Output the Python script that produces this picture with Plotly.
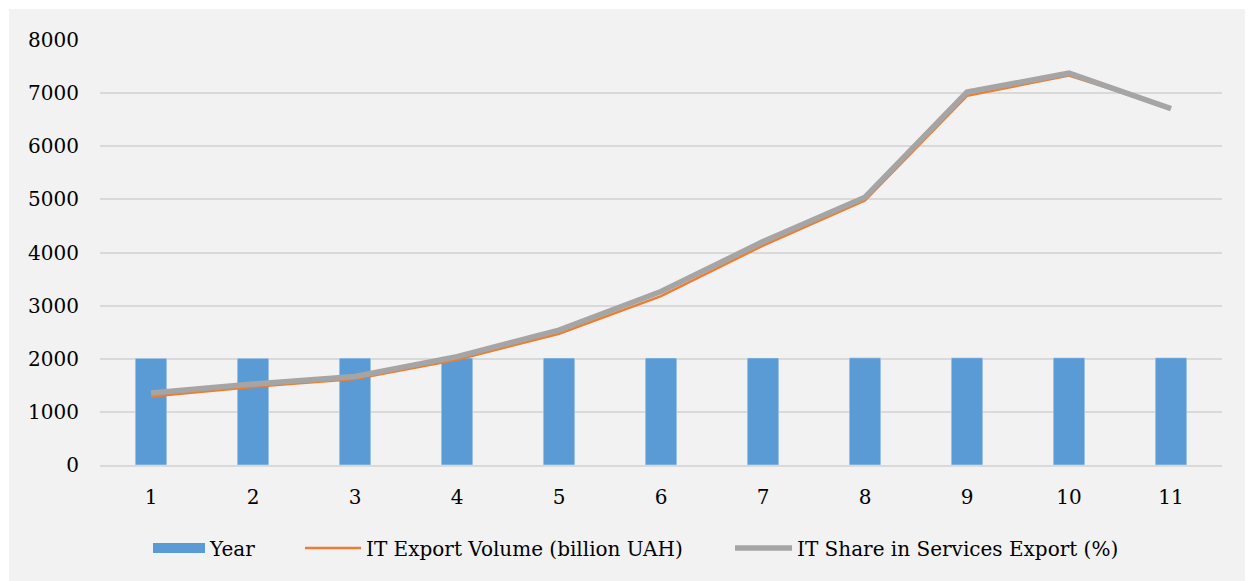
import plotly.graph_objects as go

x_labels = ["1", "2", "3", "4", "5", "6", "7", "8", "9", "10", "11"]
years = [2010, 2011, 2012, 2013, 2014, 2015, 2016, 2017, 2018, 2019, 2020]
it_export = [1290, 1470, 1620, 1980, 2470, 3180, 4130, 4980, 6950, 7330, 6720]
it_share_stacked = [1355, 1525, 1665, 2040, 2540, 3265, 4205, 5040, 7020, 7375, 6710]

BLUE, ORANGE, GRAY = "#5B9BD5", "#ED7D31", "#A5A5A5"
FONT = "DejaVu Serif, Liberation Serif, serif"

# page has 8px body margin; figure is placed at (8, 8)
OFF = 8
W, H = 1253 - OFF, 581 - OFF
L, R, T, B = 100 - OFF, 1222 - OFF, 40 - OFF, 465 - OFF
pw, ph = R - L, B - T

def px2x(p):
    return (p - OFF - L) / pw

def px2y(p):
    return (B - (p - OFF)) / ph

fig = go.Figure()
fig.add_trace(go.Bar(x=x_labels, y=years, name="Year", marker_color=BLUE,
                     width=0.31, showlegend=False))
fig.add_trace(go.Scatter(x=[None], y=[None], name="Year", mode="lines",
                         line=dict(color=BLUE, width=12), legend="legend"))
fig.add_trace(go.Scatter(x=x_labels, y=it_export, name="IT Export Volume (billion UAH)",
                         mode="lines", line=dict(color=ORANGE, width=2.5), legend="legend2"))
fig.add_trace(go.Scatter(x=x_labels, y=it_share_stacked, name="IT Share in Services Export (%)",
                         mode="lines", line=dict(color=GRAY, width=5.5), legend="legend3"))

leg_common = dict(orientation="h", yanchor="middle", y=px2y(548), xanchor="left",
                  font=dict(size=20, family=FONT),
                  bgcolor="rgba(0,0,0,0)")

fig.update_layout(
    width=W, height=H,
    margin=dict(l=L, r=W - R, t=T, b=H - B),
    paper_bgcolor="#F2F2F2", plot_bgcolor="#F2F2F2",
    font=dict(family=FONT, size=20, color="#000000"),
    showlegend=True,
    legend=dict(x=px2x(148), itemwidth=52, **leg_common),
    legend2=dict(x=px2x(300), itemwidth=56, **leg_common),
    legend3=dict(x=px2x(730), itemwidth=57, **leg_common),
    xaxis=dict(showgrid=False, showline=True, linecolor="#D9D9D9", linewidth=1.5,
               ticks="", tickfont=dict(size=20), ticklabelstandoff=13),
    yaxis=dict(range=[0, 8000], dtick=1000, showgrid=True, gridcolor="#D9D9D9",
               gridwidth=1.5, zeroline=False, ticks="", tickfont=dict(size=20),
               ticklabelstandoff=20),
    shapes=[
        dict(type="rect", xref="paper", yref="paper", x0=px2x(-20), x1=px2x(9),
             y0=px2y(600), y1=px2y(-20), fillcolor="#FFFFFF", line=dict(width=0), layer="below"),
        dict(type="rect", xref="paper", yref="paper", x0=px2x(-20), x1=px2x(1300),
             y0=px2y(9), y1=px2y(-20), fillcolor="#FFFFFF", line=dict(width=0), layer="below"),
    ],
)

fig.write_html("out.html")
